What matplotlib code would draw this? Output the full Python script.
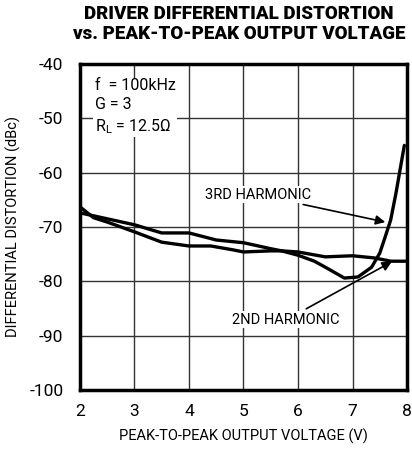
import numpy as np
import matplotlib.pyplot as plt

# 2nd harmonic (flat curve)
x_2nd = [2.0, 2.5, 3.0, 3.5, 4.0, 4.5, 5.0, 5.5, 5.7, 6.0, 6.5, 7.0, 7.4, 7.7, 8.0]
y_2nd = [-67.4, -68.5, -69.6, -71.1, -71.1, -72.4, -72.9, -74.0, -74.4, -74.6,
         -75.5, -75.3, -75.7, -76.3, -76.3]

# 3rd harmonic (dips then rises sharply)
x_3rd = [2.0, 2.25, 2.5, 3.0, 3.5, 4.0, 4.4, 4.8, 5.0, 5.5, 5.7, 6.0, 6.3, 6.5,
         6.85, 7.1, 7.35, 7.5, 7.6, 7.7, 7.8, 7.95]
y_3rd = [-66.3, -68.3, -69.1, -70.9, -72.8, -73.5, -73.5, -74.2, -74.6, -74.4,
         -74.4, -75.2, -76.3, -77.4, -79.4, -79.2, -77.4, -74.8, -71.8, -68.7,
         -63.6, -55.0]

plt.rcParams['font.family'] = ['Roboto', 'DejaVu Sans']
plt.rcParams['axes.unicode_minus'] = False

fig = plt.figure(figsize=(4.12, 4.53), dpi=100)
ax = fig.add_axes([0.194, 0.139, 0.794, 0.720])

ax.plot(x_2nd, y_2nd, color='black', lw=2.4, solid_capstyle='round', zorder=3)
ax.plot(x_3rd, y_3rd, color='black', lw=2.4, solid_capstyle='round', zorder=3)

ax.set_xlim(2, 8)
ax.set_ylim(-100, -40)
ax.set_xticks(range(2, 9))
ax.set_yticks(range(-100, -39, 10))
ax.grid(True, color='#333333', lw=1.0)
ax.tick_params(length=0, labelsize=12.5)
ax.tick_params(axis='y', pad=12)
ax.tick_params(axis='x', pad=10)
for s in ax.spines.values():
    s.set_linewidth(2.5)

ax.set_xlabel('PEAK-TO-PEAK OUTPUT VOLTAGE (V)', fontsize=10.5, labelpad=7)
ax.set_ylabel('DIFFERENTIAL DISTORTION (dBc)', fontsize=10.5, labelpad=6)

fig.text(0.58, 0.99, 'DRIVER DIFFERENTIAL DISTORTION\nvs. PEAK-TO-PEAK OUTPUT VOLTAGE',
         ha='center', va='top', fontsize=13.5, fontweight='black', linespacing=1.15)

box = dict(facecolor='white', edgecolor='none', pad=1)
ax.text(2.27, -42.6, 'f  = 100kHz\nG = 3\nR$_\\mathregular{L}$ = 12.5Ω', fontsize=11.5,
        va='top', ha='left', linespacing=1.35, bbox=box, zorder=4)

ax.annotate('3RD HARMONIC', xy=(7.6, -69.1), xytext=(5.27, -64.1), fontsize=10.5,
            ha='center', va='center', bbox=box, zorder=4,
            arrowprops=dict(arrowstyle='-|>', color='black', lw=1.2,
                            mutation_scale=14, shrinkA=4, shrinkB=0))
ax.annotate('2ND HARMONIC', xy=(7.72, -76.4), xytext=(5.78, -87.1), fontsize=10.5,
            ha='center', va='center', bbox=box, zorder=4,
            arrowprops=dict(arrowstyle='-|>', color='black', lw=1.2,
                            mutation_scale=14, shrinkA=4, shrinkB=0))

fig.savefig('out.png', dpi=100)
